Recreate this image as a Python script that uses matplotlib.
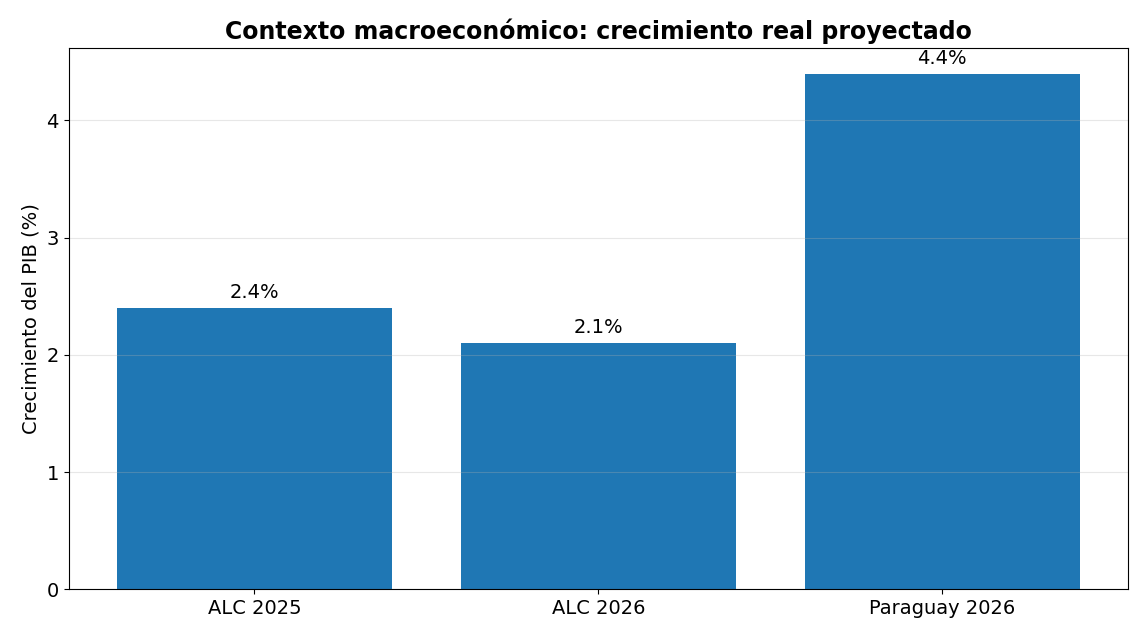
import matplotlib
matplotlib.use('Agg')
import matplotlib.pyplot as plt

categories = ['ALC 2025', 'ALC 2026', 'Paraguay 2026']
growth = [2.4, 2.1, 4.4]

fig, ax = plt.subplots(figsize=(11.43, 6.37), dpi=100)
fig.subplots_adjust(left=0.06, right=0.987, top=0.925, bottom=0.075)
bars = ax.bar(categories, growth, color='#1f77b4', width=0.8)
for b, v in zip(bars, growth):
    ax.text(b.get_x() + b.get_width() / 2, v + 0.05, f'{v}%', ha='center', va='bottom', fontsize=14)
ax.set_ylabel('Crecimiento del PIB (%)', fontsize=14)
ax.set_title('Contexto macroeconómico: crecimiento real proyectado', fontsize=17, fontweight='bold')
ax.tick_params(labelsize=14)
ax.set_yticks([0, 1, 2, 3, 4])
ax.grid(axis='y', alpha=0.3)
plt.savefig('out.png')
